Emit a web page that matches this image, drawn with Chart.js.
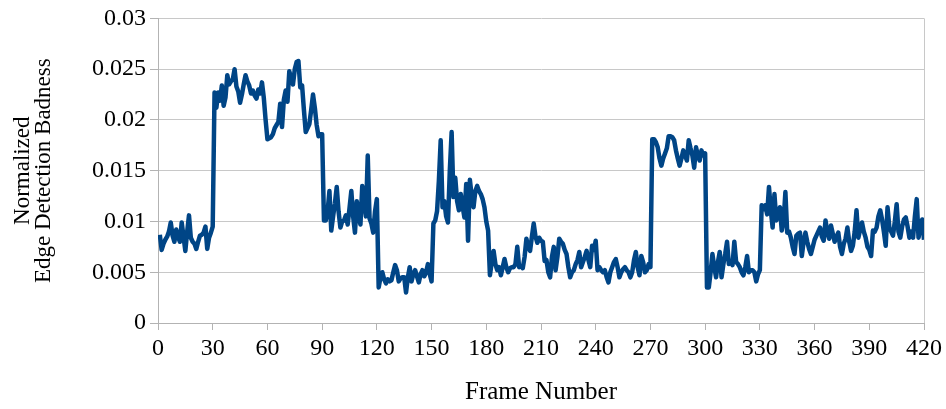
<!DOCTYPE html>
<html>
<head>
<meta charset="utf-8">
<script src="https://cdn.jsdelivr.net/npm/chart.js@4/dist/chart.umd.min.js"></script>
<style>
  body { margin: 0; background: #fff; }
</style>
</head>
<body>
<canvas id="badnessChart" width="946" height="409"></canvas>
<script>
// values, one per frame starting at frame 1
const startFrame = 1;
const badness = [
    0.0087, 0.0072, 0.0078, 0.0082, 0.0085, 0.0090, 0.0099, 0.0086, 0.0080, 0.0092,
    0.0085, 0.0080, 0.0099, 0.0085, 0.0071, 0.0090, 0.0106, 0.0084, 0.0080, 0.0078,
    0.0073, 0.0080, 0.0086, 0.0087, 0.0089, 0.0095, 0.0073, 0.0084, 0.0089, 0.0095,
    0.0227, 0.0212, 0.0227, 0.0219, 0.0234, 0.0214, 0.0222, 0.0244, 0.0235, 0.0238,
    0.0240, 0.0250, 0.0233, 0.0228, 0.0217, 0.0225, 0.0235, 0.0244, 0.0238, 0.0234,
    0.0226, 0.0229, 0.0224, 0.0221, 0.0230, 0.0226, 0.0237, 0.0222, 0.0200, 0.0181,
    0.0182, 0.0183, 0.0186, 0.0192, 0.0195, 0.0198, 0.0216, 0.0193, 0.0220, 0.0229,
    0.0218, 0.0248, 0.0240, 0.0235, 0.0250, 0.0257, 0.0258, 0.0232, 0.0234, 0.0210,
    0.0188, 0.0192, 0.0196, 0.0210, 0.0225, 0.0212, 0.0195, 0.0184, 0.0186, 0.0186,
    0.0101, 0.0101, 0.0110, 0.0130, 0.0091, 0.0105, 0.0118, 0.0134, 0.0110, 0.0094,
    0.0100, 0.0101, 0.0106, 0.0097, 0.0113, 0.0130, 0.0105, 0.0089, 0.0120, 0.0105,
    0.0097, 0.0135, 0.0120, 0.0105, 0.0165, 0.0103, 0.0098, 0.0089, 0.0110, 0.0122,
    0.0035, 0.0045, 0.0050, 0.0043, 0.0039, 0.0043, 0.0041, 0.0042, 0.0050, 0.0057,
    0.0052, 0.0041, 0.0044, 0.0045, 0.0045, 0.0030, 0.0045, 0.0055, 0.0041, 0.0048,
    0.0052, 0.0046, 0.0040, 0.0048, 0.0052, 0.0046, 0.0050, 0.0058, 0.0048, 0.0041,
    0.0098, 0.0101, 0.0110, 0.0140, 0.0180, 0.0114, 0.0120, 0.0105, 0.0099, 0.0150,
    0.0188, 0.0124, 0.0143, 0.0120, 0.0111, 0.0127, 0.0115, 0.0104, 0.0137, 0.0081,
    0.0141, 0.0125, 0.0114, 0.0130, 0.0135, 0.0130, 0.0127, 0.0122, 0.0114, 0.0100,
    0.0091, 0.0047, 0.0060, 0.0071, 0.0058, 0.0052, 0.0055, 0.0047, 0.0055, 0.0063,
    0.0055, 0.0050, 0.0054, 0.0055, 0.0055, 0.0058, 0.0075, 0.0055, 0.0056, 0.0054,
    0.0065, 0.0083, 0.0075, 0.0071, 0.0085, 0.0098, 0.0085, 0.0079, 0.0084, 0.0081,
    0.0080, 0.0061, 0.0062, 0.0050, 0.0045, 0.0065, 0.0075, 0.0052, 0.0065, 0.0083,
    0.0080, 0.0078, 0.0072, 0.0068, 0.0055, 0.0045, 0.0050, 0.0052, 0.0058, 0.0062,
    0.0070, 0.0055, 0.0060, 0.0065, 0.0071, 0.0062, 0.0055, 0.0076, 0.0072, 0.0081,
    0.0052, 0.0055, 0.0052, 0.0050, 0.0052, 0.0045, 0.0040, 0.0050, 0.0055, 0.0060,
    0.0063, 0.0055, 0.0045, 0.0050, 0.0053, 0.0055, 0.0052, 0.0050, 0.0045, 0.0050,
    0.0062, 0.0070, 0.0055, 0.0047, 0.0066, 0.0060, 0.0050, 0.0052, 0.0058, 0.0055,
    0.0181, 0.0181, 0.0178, 0.0173, 0.0162, 0.0155, 0.0162, 0.0167, 0.0172, 0.0184,
    0.0184, 0.0183, 0.0180, 0.0170, 0.0162, 0.0155, 0.0162, 0.0170, 0.0165, 0.0160,
    0.0180, 0.0172, 0.0165, 0.0153, 0.0173, 0.0165, 0.0160, 0.0170, 0.0165, 0.0167,
    0.0035, 0.0035, 0.0050, 0.0068, 0.0055, 0.0045, 0.0060, 0.0070, 0.0045, 0.0058,
    0.0068, 0.0080, 0.0058, 0.0060, 0.0057, 0.0080, 0.0060, 0.0058, 0.0055, 0.0050,
    0.0047, 0.0055, 0.0066, 0.0050, 0.0052, 0.0052, 0.0050, 0.0041, 0.0048, 0.0052,
    0.0116, 0.0112, 0.0116, 0.0107, 0.0134, 0.0111, 0.0094, 0.0127, 0.0101, 0.0105,
    0.0114, 0.0091, 0.0100, 0.0129, 0.0089, 0.0090, 0.0084, 0.0075, 0.0068, 0.0086,
    0.0088, 0.0089, 0.0066, 0.0080, 0.0089, 0.0080, 0.0073, 0.0068, 0.0075, 0.0082,
    0.0086, 0.0090, 0.0094, 0.0085, 0.0081, 0.0101, 0.0090, 0.0083, 0.0096, 0.0088,
    0.0080, 0.0085, 0.0089, 0.0075, 0.0068, 0.0078, 0.0083, 0.0094, 0.0080, 0.0071,
    0.0076, 0.0090, 0.0111, 0.0084, 0.0092, 0.0099, 0.0090, 0.0084, 0.0075, 0.0072,
    0.0066, 0.0091, 0.0090, 0.0094, 0.0105, 0.0111, 0.0102, 0.0090, 0.0076, 0.0114,
    0.0094, 0.0090, 0.0086, 0.0100, 0.0117, 0.0090, 0.0084, 0.0095, 0.0102, 0.0104,
    0.0095, 0.0084, 0.0090, 0.0084, 0.0105, 0.0122, 0.0084, 0.0095, 0.0102, 0.0082
];
const yTickLabels = ['0', '0.005', '0.01', '0.015', '0.02', '0.025', '0.03'];
const xTickStep = 30;
const xMax = 420;

const points = badness.map(function (v, i) {
    return { x: startFrame + i, y: v };
});

const serif = 'Liberation Serif';
const gridGray = '#c8c8c8';
const axisGray = '#b3b3b3';

new Chart(document.getElementById('badnessChart'), {
    type: 'line',
    data: {
        datasets: [{
            data: points,
            borderColor: '#004586',
            borderWidth: 4.5,
            borderJoinStyle: 'round',
            pointRadius: 0,
            tension: 0,
            fill: false
        }]
    },
    options: {
        responsive: false,
        animation: false,
        layout: { padding: { top: 18, right: 22, bottom: 0, left: 0 } },
        plugins: { legend: { display: false }, tooltip: { enabled: false } },
        scales: {
            x: {
                type: 'linear',
                min: 0,
                max: xMax,
                afterFit: function (scale) { scale.height = 86; },
                ticks: {
                    stepSize: xTickStep,
                    color: '#000',
                    padding: 4,
                    maxRotation: 0,
                    font: { family: serif, size: 24 }
                },
                grid: {
                    // only the right edge gets a vertical line
                    color: function (ctx) { return ctx.tick && ctx.tick.value === xMax ? gridGray : 'rgba(0,0,0,0)'; },
                    tickColor: axisGray,
                    tickLength: 7
                },
                border: { color: axisGray },
                title: {
                    display: true,
                    text: 'Frame Number',
                    color: '#000',
                    font: { family: serif, size: 25 },
                    padding: { top: 0, bottom: 2 }
                }
            },
            y: {
                min: 0,
                max: 0.03,
                afterFit: function (scale) { scale.width = 158; },
                ticks: {
                    stepSize: 0.005,
                    color: '#000',
                    padding: 4,
                    font: { family: serif, size: 24 },
                    callback: function (value, index) { return yTickLabels[index]; }
                },
                grid: { color: gridGray, tickColor: axisGray, tickLength: 8 },
                border: { color: axisGray },
                title: {
                    display: true,
                    text: ['Normalized', 'Edge Detection Badness'],
                    color: '#000',
                    font: { family: serif, size: 23, lineHeight: 0.9 },
                    padding: { top: 13, bottom: 0 }
                }
            }
        }
    }
});
</script>
</body>
</html>
